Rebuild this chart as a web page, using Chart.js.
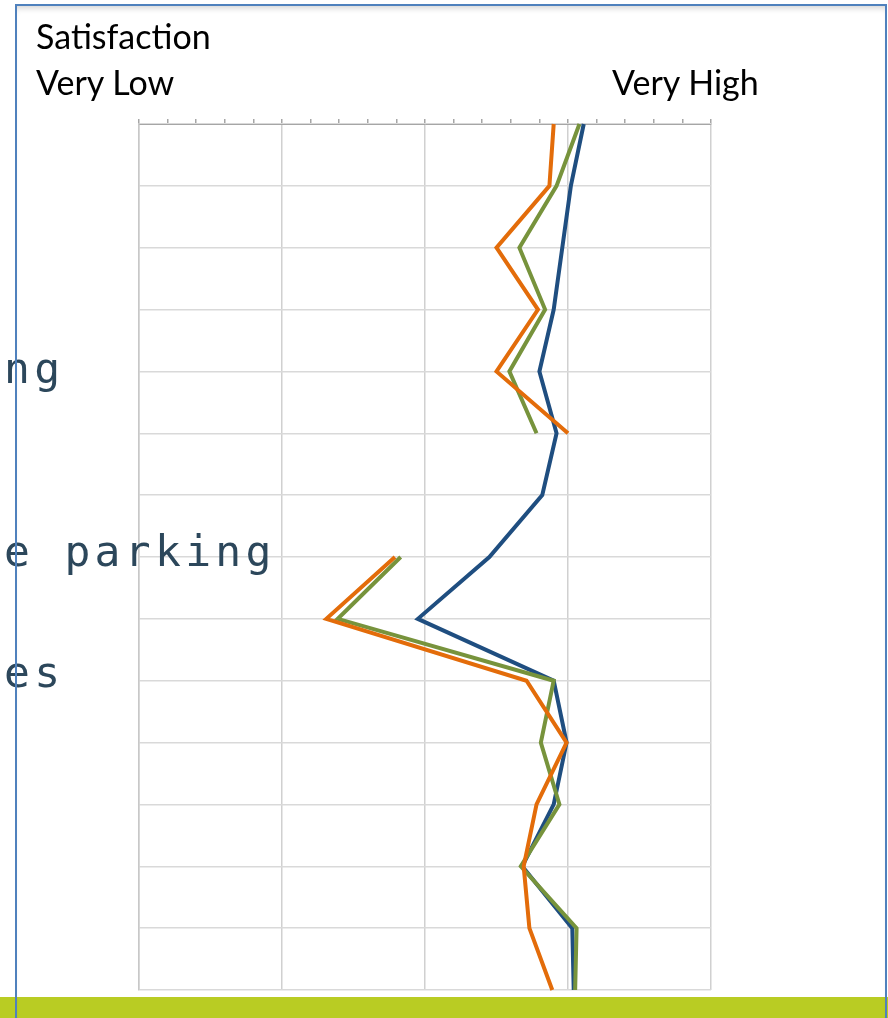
<!DOCTYPE html>
<html>
<head>
<meta charset="utf-8">
<script src="https://cdn.jsdelivr.net/npm/chart.js@4.4.1/dist/chart.umd.min.js"></script>
<style>
  html, body { margin: 0; padding: 0; background: #fff; }
  body { width: 888px; height: 1018px; position: relative; overflow: hidden; }
  #wrap { position: absolute; left: 0; top: 0; width: 888px; height: 1018px; z-index: 1; }
  .bar { position: absolute; left: 0; top: 997px; width: 888px; height: 21px; background: #B9CC23; z-index: 2; }
  .frame { position: absolute; left: 15px; top: 4px; width: 872px; height: 1100px; box-sizing: border-box;
           border: 2px solid #4F81BD; box-shadow: inset 0 6px 6px -4px rgba(0,0,0,0.18); z-index: 4; }
  .lbl { position: absolute; font-family: Lato, sans-serif; font-size: 34px; line-height: 34px; color: #000; white-space: nowrap; z-index: 3; }
  .mono { position: absolute; left: 4px; font-family: 'DejaVu Sans Mono', monospace; font-size: 43px; line-height: 44px;
          letter-spacing: 4.3px; color: #2C475B; white-space: pre; z-index: 3; }
</style>
</head>
<body>
<div id="wrap"><canvas id="chart"></canvas></div>
<div class="bar"></div>
<div class="frame"></div>
<div class="lbl" style="left:36px; top:19px;">Satisfaction</div>
<div class="lbl" style="left:36px; top:65px;">Very Low</div>
<div class="lbl" style="left:612px; top:65px;">Very High</div>
<div class="mono" style="top:346px;">ng</div>
<div class="mono" style="top:529px;">e parking</div>
<div class="mono" style="top:650px;">es</div>

<script>
// rows of the survey, top to bottom
const rows = ['1', '2', '3', '4', '5', '6', '7', '8', '9', '10', '11', '12', '13', '14', '15'];

// satisfaction score, 1 = very low ... 5 = very high
const blueScores   = [4.11, 4.02, 3.96, 3.90, 3.80, 3.92, 3.82, 3.45, 2.95, 3.90, 3.99, 3.90, 3.68, 4.03, 4.04];
const greenScores  = [4.08, 3.92, 3.66, 3.84, 3.59, 3.78, null, 2.83, 2.39, 3.90, 3.81, 3.94, 3.67, 4.06, 4.05];
const orangeScores = [3.90, 3.87, 3.50, 3.79, 3.50, 4.00, null, 2.79, 2.31, 3.71, 3.99, 3.78, 3.69, 3.73, 3.89];

const scaleMin = 1;
const scaleMax = 5;
const minorStep = 0.2;

function isMajor(v) {
    return Math.abs(v - Math.round(v)) < 1e-6;
}

function series(values, color) {
    return {
        data: values,
        borderColor: color,
        backgroundColor: color,
        borderWidth: 4,
        pointRadius: 0,
        tension: 0,
        fill: false
    };
}

const ctx = document.getElementById('chart');

new Chart(ctx, {
    type: 'line',
    data: {
        labels: rows,
        datasets: [
            series(orangeScores, '#E36C0A'),
            series(greenScores, '#77933C'),
            series(blueScores, '#1F4E80')
        ]
    },
    options: {
        indexAxis: 'y',
        responsive: true,
        maintainAspectRatio: false,
        devicePixelRatio: 1,
        animation: false,
        layout: {
            padding: { left: 139, right: 177, top: 119, bottom: 28 }
        },
        plugins: {
            legend: { display: false },
            tooltip: { enabled: false }
        },
        scales: {
            x: {
                type: 'linear',
                position: 'top',
                min: scaleMin,
                max: scaleMax,
                ticks: { display: false, stepSize: minorStep },
                grid: {
                    color: (c) => isMajor(c.tick.value) ? '#D0D0D0' : 'rgba(0,0,0,0)',
                    lineWidth: 1.5,
                    tickColor: '#A6A6A6',
                    tickLength: 5,
                    drawTicks: true
                },
                border: { color: '#A6A6A6', width: 1 }
            },
            y: {
                type: 'category',
                offset: false,
                ticks: { display: false },
                grid: { color: '#D9D9D9', lineWidth: 1.5, drawTicks: false, tickLength: 0 },
                border: { color: '#C8C8C8', width: 1.5 }
            }
        }
    }
});
</script>
</body>
</html>
